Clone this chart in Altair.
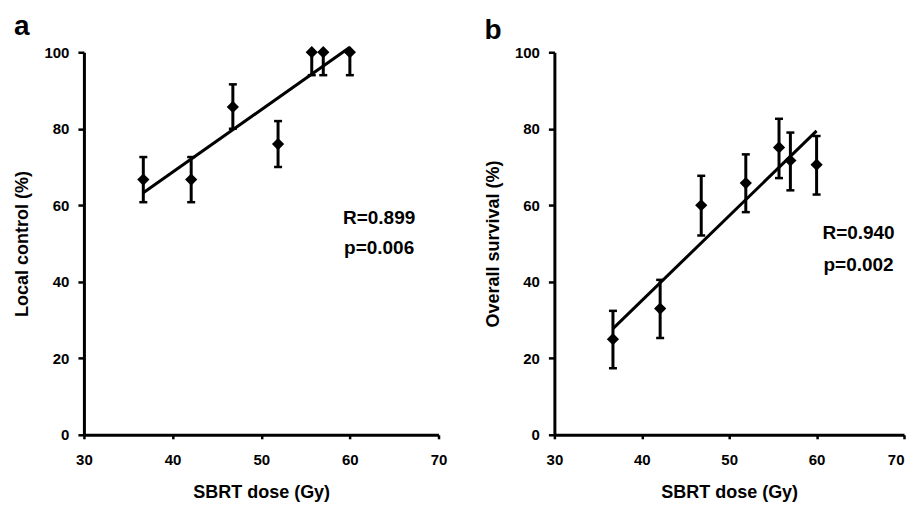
import altair as alt
import pandas as pd

# ---- data ----
dose = [36.7, 42.1, 46.8, 51.9, 55.7, 57.0, 60.0]

local_control = [66.7, 66.7, 85.7, 76.0, 100, 100, 100]
lc_low = [60.8, 60.8, 80.0, 70.0, 94.0, 94.0, 94.0]
lc_high = [72.6, 72.6, 91.6, 82.0, 100, 100, 100]

overall_survival = [25.0, 33.0, 60.0, 65.8, 75.1, 71.7, 70.6]
os_low = [17.4, 25.3, 52.1, 58.2, 67.1, 63.9, 62.8]
os_high = [32.4, 40.5, 67.7, 73.3, 82.6, 79.0, 78.1]

x_ticks = [30, 40, 50, 60, 70]
y_ticks = [0, 20, 40, 60, 80, 100]

stats_a = ["R=0.899", "p=0.006"]
stats_b = ["R=0.940", "p=0.002"]
stats_a_x = [63.3, 63.3]
stats_a_y = [56.7, 48.8]
stats_b_x = [64.8, 64.8]
stats_b_y = [52.7, 44.4]

FONT = "Liberation Sans"


def panel(letter, values, low, high, ytitle, stats, sx, sy, width, last_right=False):
    df = pd.DataFrame({"dose": dose, "v": values, "lo": low, "hi": high})
    ann = pd.DataFrame({"t": stats, "x": sx, "y": sy})
    xs = alt.Scale(domain=[30, 70], nice=False)
    ys = alt.Scale(domain=[0, 100], nice=False)
    xax_kw = dict(values=x_ticks, title="SBRT dose (Gy)", tickSize=4, labelFlush=False)
    if last_right:
        xax_kw["labelAlign"] = {"condition": {"test": "datum.value >= 70", "value": "right"}, "value": "center"}
    xax = alt.Axis(**xax_kw)
    yax = alt.Axis(values=y_ticks, title=ytitle, tickSize=6, labelFlush=False)
    X = alt.X("dose:Q", scale=xs, axis=xax)

    base = alt.Chart(df)
    bars = base.mark_rule(color="black", strokeWidth=3).encode(
        x=X, y=alt.Y("lo:Q", scale=ys, axis=yax), y2="hi:Q"
    )
    cap_lo = base.mark_tick(color="black", orient="horizontal", size=8, thickness=2.5, opacity=1).encode(
        x=X, y=alt.Y("lo:Q", scale=ys, axis=yax)
    )
    cap_hi = base.mark_tick(color="black", orient="horizontal", size=8, thickness=2.5, opacity=1).encode(
        x=X, y=alt.Y("hi:Q", scale=ys, axis=yax)
    )
    fit = base.transform_regression("dose", "v").mark_line(color="black", strokeWidth=3).encode(
        x=X, y=alt.Y("v:Q", scale=ys, axis=yax)
    )
    pts = base.mark_point(shape="diamond", filled=True, size=150, color="black", opacity=1).encode(
        x=X, y=alt.Y("v:Q", scale=ys, axis=yax)
    )
    txt = alt.Chart(ann).mark_text(font=FONT, fontSize=19, fontWeight="bold", color="black").encode(
        x=alt.X("x:Q", scale=xs, axis=xax), y=alt.Y("y:Q", scale=ys, axis=yax), text="t:N"
    )
    return alt.layer(bars, cap_lo, cap_hi, fit, pts, txt).properties(
        width=width,
        height=383,
        title=alt.TitleParams(
            letter, anchor="start", frame="bounds", fontSize=28, fontWeight="bold",
            font=FONT, color="black", offset=0,
        ),
    )


a = panel("a", local_control, lc_low, lc_high, "Local control (%)", stats_a, stats_a_x, stats_a_y, 355)
b = panel("b", overall_survival, os_low, os_high, "Overall survival (%)", stats_b, stats_b_x, stats_b_y, 350,
          last_right=True)

chart = alt.hconcat(a, b, spacing=36).properties(
    padding={"left": 5, "top": 5, "right": 0, "bottom": 0}
).configure_view(stroke=None).configure_axis(
    grid=False,
    domainColor="black",
    domainWidth=3,
    tickColor="black",
    tickWidth=2.5,
    labelFont=FONT,
    labelFontSize=15,
    labelFontWeight="bold",
    labelColor="black",
    titleFont=FONT,
    titleFontSize=18,
    titleFontWeight="bold",
    titleColor="black",
).configure_axisX(labelPadding=14, titlePadding=16).configure_axisY(labelPadding=9, titlePadding=12)

chart.save("out.html", embed_options={"renderer": "svg", "actions": False})
